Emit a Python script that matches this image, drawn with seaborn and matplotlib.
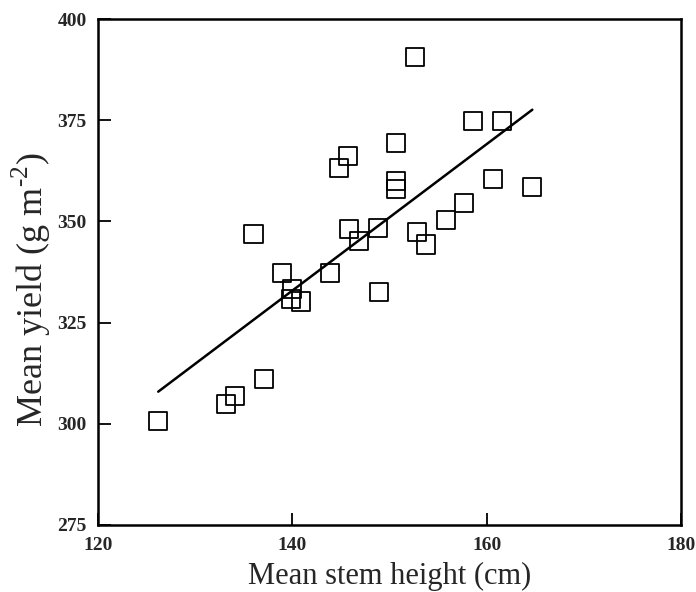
import numpy as np
import pandas as pd
import seaborn as sns
import matplotlib.pyplot as plt

# values
stem_height = [126.2, 133.2, 134.1, 137.1, 136.0, 138.9, 140.0, 139.9, 140.9, 143.9,
               152.6, 158.6, 161.6, 150.7, 145.7, 144.8, 150.7, 150.7, 160.7, 164.7,
               157.7, 155.8, 145.8, 148.8, 146.9, 152.8, 153.8, 148.9]
mean_yield = [300.7, 304.9, 306.9, 311.0, 346.8, 337.2, 333.2, 330.9, 330.2, 337.2,
              390.7, 374.8, 374.9, 369.3, 366.2, 363.2, 360.0, 358.1, 360.4, 358.6,
              354.5, 350.4, 348.1, 348.3, 345.2, 347.3, 344.3, 332.5]
x_ticks = [120, 140, 160, 180]
y_ticks = [275, 300, 325, 350, 375, 400]

df = pd.DataFrame({'height': stem_height, 'yield': mean_yield})

sns.set_style("white")
plt.rcParams['font.family'] = ['Liberation Serif', 'DejaVu Serif']
plt.rcParams['mathtext.fontset'] = 'custom'
plt.rcParams['mathtext.rm'] = 'Liberation Serif'

fig = plt.figure(figsize=(6.96, 5.92), dpi=100)
ax = fig.add_axes([0.1408, 0.1132, 0.8376, 0.8547])

sns.regplot(data=df, x='height', y='yield', ci=None, ax=ax,
            marker='s',
            scatter_kws={'s': 170, 'facecolors': 'none', 'edgecolors': 'black',
                         'linewidths': 1.3, 'alpha': 1},
            line_kws={'color': 'black', 'linewidth': 1.8})

ax.set_xlim(120, 180)
ax.set_ylim(275, 400)
ax.set_xticks(x_ticks)
ax.set_yticks(y_ticks)
ax.set_xticklabels([str(t) for t in x_ticks], fontsize=14, fontweight='bold')
ax.set_yticklabels([str(t) for t in y_ticks], fontsize=14, fontweight='bold')
ax.tick_params(direction='in', length=9, width=1.3, left=True, bottom=True,
               top=False, right=False, pad=8, color='black')
ax.tick_params(axis='x', pad=9)
for s in ax.spines.values():
    s.set_linewidth(1.8)
    s.set_color('black')

ax.set_xlabel('Mean stem height (cm)', fontsize=22, labelpad=5)
ax.set_ylabel(r'Mean yield (g m$^{\text{-2}}$)', fontsize=26)
ax.yaxis.set_label_coords(-0.078, 0.464)

fig.savefig('out.png', dpi=100)
